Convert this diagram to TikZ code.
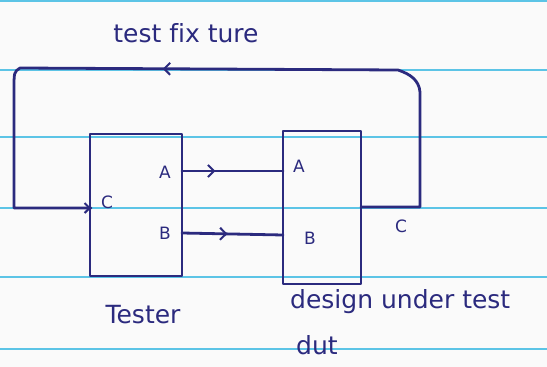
\documentclass[tikz,border=0pt]{standalone}
\usepackage{fontspec}
\setmainfont[Ligatures=NoCommon]{DejaVu Sans}
\usetikzlibrary{arrows.meta,decorations.markings,calc}
\definecolor{ink}{HTML}{2B2A7E}
\definecolor{rule}{HTML}{5CC4E6}
\tikzset{
  inkline/.style={draw=ink, line width=2.8pt, line join=round, line cap=round},
  boxnode/.style={inkline, rectangle, inner sep=0pt},
  lbl/.style={text=ink, font=\fontsize{17}{19}\selectfont, inner sep=0pt},
  bigl/.style={text=ink, font=\fontsize{25}{28}\selectfont, inner sep=0pt},
  midarrow/.style={postaction={decorate}, decoration={markings,
     mark=at position #1 with {\arrow{Straight Barb[length=6pt,width=12pt,line width=2pt]}}}},
  paperrule/.style={draw=rule, line width=1.4pt}
}
\begin{document}
\begin{tikzpicture}[x=1pt,y=-1pt]
\useasboundingbox (0,0) rectangle (547,367);
\fill[white!96!gray] (0,0) rectangle (547,367);
% ruled paper lines
\foreach \yy in {1,70,137,208,277,349}
  \draw[paperrule] (0,\yy) -- (547,\yy);
% boxes
\node[boxnode, minimum width=92pt, minimum height=142pt] (tester) at (136,205) {};
\node[boxnode, minimum width=78pt, minimum height=153pt] (dut) at (322,207.5) {};
% port coordinates
\coordinate (tA) at (182,171);
\coordinate (dA) at (283,171);
\coordinate (tB) at (182,233);
\coordinate (dB) at (283,235);
\coordinate (tC) at (91,208);
\coordinate (tCs) at (84,208);
\coordinate (dC) at (361,207);
\coordinate (r1) at (420,207);
\coordinate (r2) at (420,92);
\coordinate (r3) at (398,70);
\coordinate (l1) at (20,68);
\coordinate (l2) at (14,208);
% connectors
\draw[inkline, midarrow=0.33] (tA) -- (dA);
\draw[inkline, midarrow=0.45] (tB) -- (dB);
\draw[inkline, midarrow=0.55] (dC) -- (r1) -- (r2) .. controls (419,80) and (410,74) .. (r3) -- (l1) .. controls (14,72) .. (14,90) -- (l2) -- (tC);
\draw[ink, line width=2pt, -{Straight Barb[length=5pt,width=10pt]}] (tCs) -- (tC);
% labels
\node[bigl] (title) at (186,33) {test fix ture};
\node[lbl] (la) at (165,172) {A};
\node[lbl] (lb) at (165,233) {B};
\node[lbl] (lc) at (107,202) {C};
\node[lbl] (da) at (299,166) {A};
\node[lbl] (db) at (310,238) {B};
\node[lbl] (dc) at (401,226) {C};
\node[bigl] (tname) at (143,315) {Tester};
\node[bigl, anchor=west] (dname) at (290,302) {design under test};
\node[bigl, anchor=west] (dutname) at (296,345) {dut};
\end{tikzpicture}
\end{document}
